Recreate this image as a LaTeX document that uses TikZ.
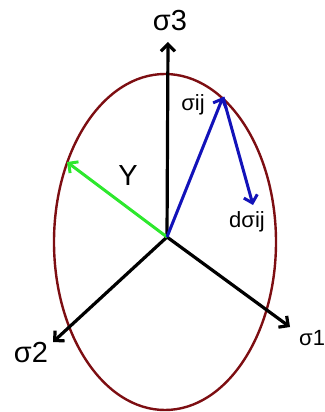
\documentclass[tikz,border=0pt]{standalone}
\usepackage{fontspec}
\setmainfont{Liberation Sans}
\definecolor{surfred}{RGB}{125,14,18}
\definecolor{vecblue}{RGB}{18,18,185}
\definecolor{ygreen}{RGB}{45,232,45}
\usetikzlibrary{arrows.meta}

\begin{document}
\begin{tikzpicture}[x=1pt, y=-1pt,
      axis/.style={-{Straight Barb[length=7pt, width=14pt]}, line width=3.2pt, black},
      vec/.style={-{Straight Barb[length=7pt, width=14pt]}, line width=3pt},
      big/.style={font=\fontsize{29}{33}\selectfont, inner sep=0pt},
      small/.style={font=\fontsize{22}{26}\selectfont, inner sep=0pt}
    ]
    \useasboundingbox (0,0) rectangle (324,412);
    % yield surface
    \draw[surfred, line width=2.4pt] (165,242) ellipse [x radius=111, y radius=168];
    % points
    \coordinate (o) at (167,237);
    \coordinate (s3) at (168,42);
    \coordinate (s1) at (290,327);
    \coordinate (s2) at (53,342);
    \coordinate (yt) at (67,162);
    \coordinate (sij) at (223,97);
    \coordinate (dsij) at (253,205);
    % labels
    \node[big] (l3) at (170,21) {σ3};
    \node[big] (l2) at (31,353) {σ2};
    \node[small, anchor=west] (l1) at (299,338) {σ1};
    \node[big] (ly) at (128,176) {Y};
    \node[small] (lsij) at (193,105) {σij};
    \node[small] (ldsij) at (247,222) {dσij};
    % principal axes
    \draw[axis] (o) -- (s3);
    \draw[axis] (o) -- (s1);
    \draw[axis] (o) -- (s2);
    % radius and stress vectors
    \draw[vec, ygreen] (o) -- (yt);
    \draw[vec, vecblue] (o) -- (sij);
    \draw[vec, vecblue] (sij) -- (dsij);
  \end{tikzpicture}
\end{document}
